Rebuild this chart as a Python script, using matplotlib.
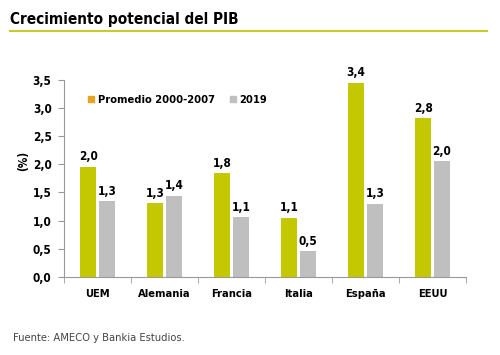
import numpy as np
import matplotlib
matplotlib.use('Agg')
import matplotlib.pyplot as plt
from matplotlib.patches import Patch

categories = ['UEM', 'Alemania', 'Francia', 'Italia', 'España', 'EEUU']
promedio = [1.96, 1.31, 1.84, 1.05, 3.45, 2.82]
y2019 = [1.34, 1.44, 1.06, 0.46, 1.30, 2.05]
labels_prom = ['2,0', '1,3', '1,8', '1,1', '3,4', '2,8']
labels_2019 = ['1,3', '1,4', '1,1', '0,5', '1,3', '2,0']
yticks = [0.0, 0.5, 1.0, 1.5, 2.0, 2.5, 3.0, 3.5]

GREEN = '#c3c800'
GREY = '#bfbfbf'
ORANGE = '#e8a420'

plt.rcParams['font.family'] = ['DejaVu Sans']
plt.rcParams['font.stretch'] = 'condensed'

fig = plt.figure(figsize=(5, 3.55), dpi=100)
ax = fig.add_axes([0.128, 0.22, 0.804, 0.555])

x = np.arange(len(categories))
w = 0.25
off = 0.14
ax.bar(x - off, promedio, w, color=GREEN)
ax.bar(x + off, y2019, w, color=GREY)

for xi, v, s in zip(x, promedio, labels_prom):
    ax.text(xi - off, v + 0.06, s, ha='center', va='bottom',
            fontsize=8.5, fontweight='bold')
for xi, v, s in zip(x, y2019, labels_2019):
    ax.text(xi + off, v + 0.06, s, ha='center', va='bottom',
            fontsize=8.5, fontweight='bold')

ax.set_xlim(-0.5, len(categories) - 0.5)
ax.set_ylim(0, 3.5)
ax.set_yticks(yticks)
ax.set_yticklabels([f'{t:.1f}'.replace('.', ',') for t in yticks],
                   fontsize=8.5, fontweight='bold')
ax.set_xticks(x)
ax.set_xticklabels(categories, fontsize=8, fontweight='bold')
ax.tick_params(axis='x', length=0, pad=9)
ax.set_xticks(np.arange(-0.5, len(categories)), minor=True)
ax.tick_params(axis='x', which='minor', length=4, color='#999999')
ax.tick_params(axis='y', length=4, color='#999999', pad=5)
ax.set_ylabel('(%)', fontsize=8.5, fontweight='bold')
ax.yaxis.set_label_coords(-0.085, 0.59)

for side in ['top', 'right']:
    ax.spines[side].set_visible(False)
for side in ['left', 'bottom']:
    ax.spines[side].set_color('#999999')

handles = [Patch(color=ORANGE, label='Promedio 2000-2007'),
           Patch(color=GREY, label='2019')]
leg = ax.legend(handles=handles, loc='upper left', bbox_to_anchor=(0.035, 0.975),
                ncol=2, frameon=False, handlelength=0.55, handleheight=0.55,
                handletextpad=0.35, columnspacing=1.3,
                prop={'size': 8, 'weight': 'bold', 'stretch': 'condensed'})

fig.text(0.02, 0.945, 'Crecimiento potencial del PIB', fontsize=11,
         fontweight='bold', ha='left', va='center')
fig.add_artist(plt.Line2D([0.02, 0.974], [0.913, 0.913], color='#c8cc28',
                          lw=1.5, transform=fig.transFigure))
fig.text(0.026, 0.048, 'Fuente: AMECO y Bankia Estudios.', fontsize=8,
         color='#444444', ha='left', va='center')

fig.savefig('out.png', dpi=100)
